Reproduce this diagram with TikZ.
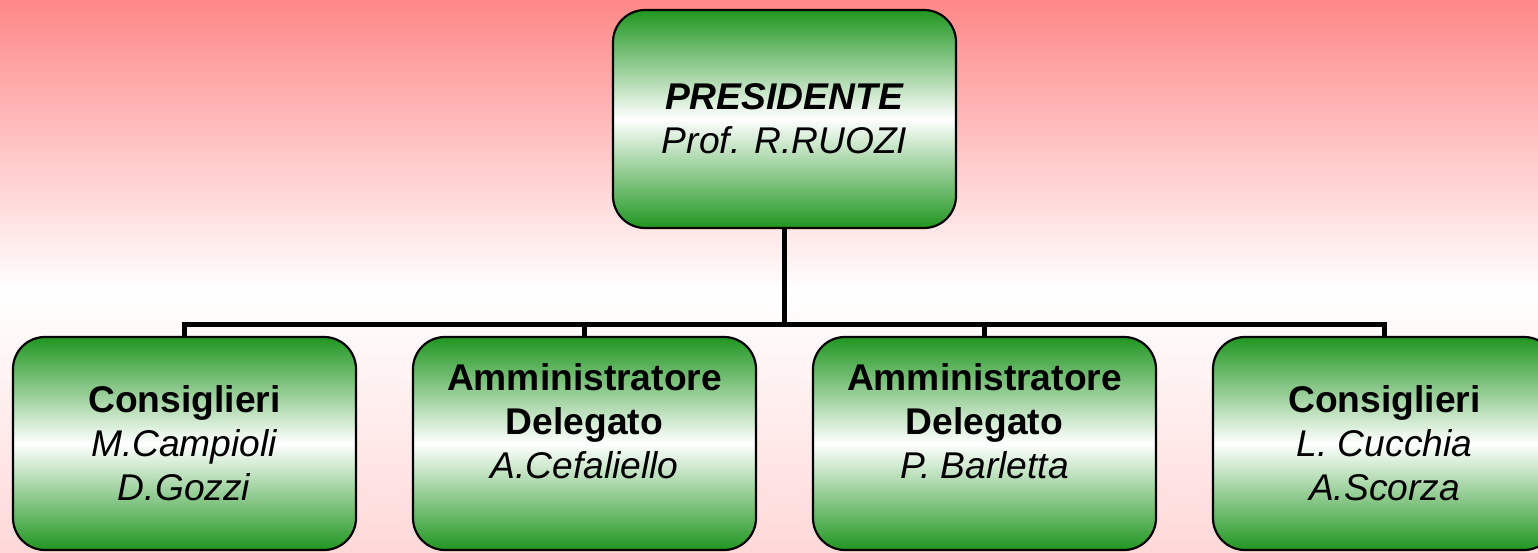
\documentclass[tikz,border=0pt]{standalone}
\usepackage{fontspec}
\setmainfont{Liberation Sans}
\definecolor{bgpink}{RGB}{255,136,136}
\definecolor{bglight}{RGB}{255,216,216}
\definecolor{boxgreen}{RGB}{32,150,32}
\begin{document}
\begin{tikzpicture}[x=0.5pt, y=-0.5pt,
		box/.style={rectangle, rounded corners=16pt, draw=black, line width=1.1pt,
			top color=boxgreen, bottom color=boxgreen, middle color=white,
			align=center, font=\fontsize{18.6}{22}\selectfont,
			minimum width=171.5pt, minimum height=106.5pt, inner sep=0pt},
		top box/.style={box, minimum height=109pt},
		level 1/.style={sibling distance=200pt},
		level distance = 162.25pt,
		edge from parent/.style={draw, line width=2.4pt},
		edge from parent path={(\tikzparentnode.south) -- ++(0,-47.5pt) -| (\tikzchildnode.north)}
		]
	\useasboundingbox (0,0) rectangle (1538,552);
	\clip (0,0) rectangle (1538,552);
	% background
	\shade [top color=bgpink, bottom color=white] (0,0) rectangle (1538,290);
	\shade [top color=white, bottom color=bglight] (0,289) rectangle (1538,552);
	\node [top box] (pres) at (784.5,119) {\textbf{\textit{PRESIDENTE}}\\\textit{Prof. R.RUOZI}}
	  child { node [box] (cons1) {\textbf{Consiglieri}\\\textit{M.Campioli}\\\textit{D.Gozzi}} }
	  child { node [box] (amm1) {\textbf{Amministratore}\\\textbf{Delegato}\\\textit{A.Cefaliello}\\\mbox{}} }
	  child { node [box] (amm2) {\textbf{Amministratore}\\\textbf{Delegato}\\\textit{P. Barletta}\\\mbox{}} }
	  child { node [box] (cons2) {\textbf{Consiglieri}\\\textit{L. Cucchia}\\\textit{A.Scorza}} };
\end{tikzpicture}
\end{document}
